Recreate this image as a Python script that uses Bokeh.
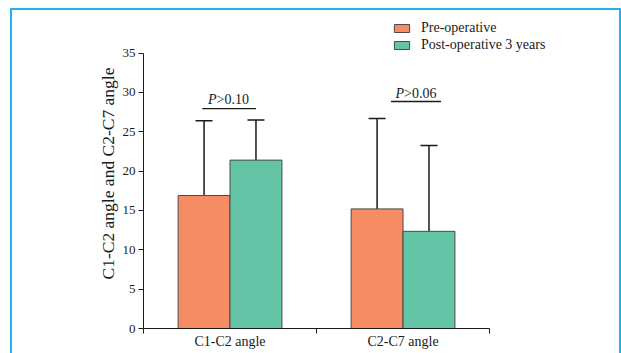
from bokeh.plotting import figure
from bokeh.models import (Range1d, FixedTicker, ColumnDataSource, Whisker, TeeHead,
                          Legend, LegendItem, Title)
from bokeh.embed import file_html
from bokeh.resources import INLINE
from bokeh.core.properties import value

# ---- data ----
categories = ["C1-C2 angle", "C2-C7 angle"]
series_names = ["Pre-operative", "Post-operative 3 years"]
pre_mean = [16.9, 15.2]
pre_sd = [9.5, 11.5]
post_mean = [21.4, 12.35]
post_sd = [5.1, 10.9]
y_ticks = [0, 5, 10, 15, 20, 25, 30, 35]
y_label = "C1-C2 angle and C2-C7 angle"
p_prefix = ["P", "P"]
p_values = [">0.10", ">0.06"]

# ---- style ----
FONT = "Liberation Serif"
ORANGE = "#F68C63"
GREEN = "#63C4A6"
BLUE = "#22B1EC"
INK = "#1a1a1a"
BAR_W = 0.3

n = len(categories)
idx = list(range(n))
x_pre = [i + 0.5 - BAR_W / 2 for i in idx]
x_post = [i + 0.5 + BAR_W / 2 for i in idx]

p = figure(frame_width=417, frame_height=310,
           min_border_left=131, min_border_right=59,
           min_border_top=8, min_border_bottom=25,
           x_range=Range1d(0, 2.41), y_range=Range1d(0, 39.4),
           output_backend="svg", toolbar_location=None, tools="")
p.styles = {"border-top": f"2px solid {BLUE}",
            "border-left": f"2px solid {BLUE}",
            "border-right": f"2px solid {BLUE}",
            "margin-left": "10px",
            "margin-top": "8px"}
p.outline_line_color = None
p.xgrid.visible = False
p.ygrid.visible = False
p.background_fill_color = "white"

src_pre = ColumnDataSource(dict(x=x_pre, top=pre_mean,
                                upper=[m + s for m, s in zip(pre_mean, pre_sd)]))
src_post = ColumnDataSource(dict(x=x_post, top=post_mean,
                                 upper=[m + s for m, s in zip(post_mean, post_sd)]))

r_pre = p.vbar(x="x", top="top", bottom=0, width=BAR_W, source=src_pre,
               fill_color=ORANGE, line_color="#4a4a4a", line_width=1)
r_post = p.vbar(x="x", top="top", bottom=0, width=BAR_W, source=src_post,
                fill_color=GREEN, line_color="#4a4a4a", line_width=1)

for src in (src_pre, src_post):
    w = Whisker(base="x", upper="upper", lower="top", source=src,
                line_color=INK, line_width=1.5, lower_head=None,
                upper_head=TeeHead(size=17, line_color=INK, line_width=1.5))
    p.add_layout(w)

# significance brackets
br_x0 = [0.34, 1.43]
br_x1 = [0.65, 1.72]
br_y = [27.95, 28.85]
txt_x = [0.422, 1.506]
txt_y = [29.15, 29.86]
p.segment(x0=br_x0, x1=br_x1, y0=br_y, y1=br_y, line_color=INK, line_width=1.3)
p.text(x=txt_x, y=txt_y, text=p_prefix, text_font=value(FONT),
       text_font_style="italic", text_font_size="14px", text_align="right",
       text_baseline="middle", text_color=INK)
p.text(x=txt_x, y=txt_y, text=p_values, text_font=value(FONT),
       text_font_size="14px", text_align="left",
       text_baseline="middle", text_color=INK)

# axes
ya = p.yaxis[0]
ya.ticker = FixedTicker(ticks=y_ticks)
ya.bounds = (0, 35)
ya.major_label_text_font = FONT
ya.major_label_text_font_size = "13px"
ya.major_label_text_color = INK
ya.major_label_standoff = 3
ya.major_tick_out = 5
ya.major_tick_in = 0
ya.minor_tick_out = 0
ya.minor_tick_in = 0
ya.axis_line_color = INK
ya.major_tick_line_color = INK

# y-axis title centred on the 0-35 span of the axis
ytitle = Title(text=y_label, align="center", offset=-17, standoff=3,
               text_font=FONT, text_font_size="17.5px", text_font_style="normal",
               text_color=INK)
p.add_layout(ytitle, "left")

xa = p.xaxis[0]
xa.ticker = FixedTicker(ticks=[i + 0.5 for i in idx], minor_ticks=list(range(n + 1)))
xa.bounds = (0, n)
xa.major_label_overrides = {i + 0.5: c for i, c in zip(idx, categories)}
xa.major_label_text_font = FONT
xa.major_label_text_font_size = "14px"
xa.major_label_text_color = INK
xa.major_label_standoff = 0
xa.major_tick_out = 0
xa.major_tick_in = 0
xa.minor_tick_out = 5
xa.minor_tick_in = 0
xa.axis_line_color = INK
xa.minor_tick_line_color = INK

legend = Legend(items=[LegendItem(label=series_names[0], renderers=[r_pre]),
                       LegendItem(label=series_names[1], renderers=[r_post])],
                location=(249, 275), glyph_width=19, glyph_height=10,
                label_text_font=FONT, label_text_font_size="14px",
                label_text_color=INK, label_standoff=10, label_height=10,
                padding=0, margin=0, spacing=1,
                border_line_color=None, background_fill_alpha=0)
p.add_layout(legend, "center")

open("out.html", "w").write(file_html(p, INLINE))
